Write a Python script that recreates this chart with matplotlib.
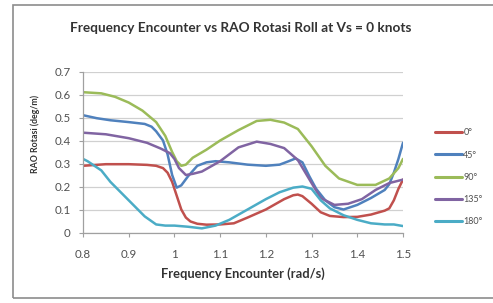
import matplotlib
matplotlib.use("Agg")
import matplotlib.pyplot as plt
from matplotlib.patches import Rectangle

plt.rcParams['font.family'] = ['Lato', 'DejaVu Sans']

title = "Frequency Encounter vs RAO Rotasi Roll at Vs = 0 knots"
xlabel = "Frequency Encounter (rad/s)"
ylabel = "RAO Rotasi (deg/m)"
labels = ["0°", "45°", "90°", "135°", "180°"]
colors = ["#C0504D", "#4F81BD", "#9BBB59", "#8064A2", "#4BACC6"]

freq_0 = [0.80, 0.85, 0.90, 0.94, 0.96, 0.975, 0.985, 0.995, 1.005, 1.015, 1.025, 1.035, 1.05, 1.07, 1.10, 1.13, 1.16, 1.20, 1.24, 1.26, 1.27, 1.28, 1.30, 1.32, 1.34, 1.37, 1.40, 1.43, 1.46, 1.47, 1.48, 1.49, 1.50]
rao_0 = [0.29, 0.297, 0.297, 0.294, 0.29, 0.28, 0.26, 0.22, 0.16, 0.10, 0.065, 0.048, 0.038, 0.034, 0.035, 0.04, 0.065, 0.10, 0.145, 0.162, 0.165, 0.158, 0.125, 0.088, 0.072, 0.067, 0.068, 0.078, 0.095, 0.105, 0.14, 0.19, 0.23]

freq_45 = [0.80, 0.83, 0.86, 0.90, 0.935, 0.95, 0.96, 0.975, 0.985, 0.995, 1.005, 1.015, 1.03, 1.05, 1.07, 1.09, 1.12, 1.16, 1.20, 1.23, 1.25, 1.265, 1.28, 1.295, 1.31, 1.33, 1.35, 1.37, 1.40, 1.43, 1.46, 1.47, 1.48, 1.49, 1.50]
rao_45 = [0.51, 0.497, 0.488, 0.48, 0.472, 0.46, 0.44, 0.40, 0.34, 0.25, 0.195, 0.205, 0.245, 0.29, 0.305, 0.31, 0.305, 0.295, 0.29, 0.295, 0.31, 0.322, 0.305, 0.245, 0.19, 0.14, 0.11, 0.10, 0.12, 0.15, 0.185, 0.21, 0.26, 0.32, 0.39]

freq_90 = [0.80, 0.84, 0.87, 0.90, 0.93, 0.96, 0.98, 0.995, 1.005, 1.015, 1.025, 1.04, 1.07, 1.10, 1.14, 1.18, 1.21, 1.24, 1.27, 1.30, 1.33, 1.36, 1.40, 1.44, 1.47, 1.49, 1.50]
rao_90 = [0.61, 0.605, 0.59, 0.565, 0.53, 0.48, 0.42, 0.35, 0.31, 0.29, 0.295, 0.325, 0.36, 0.40, 0.445, 0.485, 0.49, 0.478, 0.45, 0.375, 0.29, 0.235, 0.207, 0.207, 0.235, 0.28, 0.32]

freq_135 = [0.80, 0.85, 0.90, 0.94, 0.97, 0.99, 1.00, 1.01, 1.025, 1.04, 1.06, 1.10, 1.14, 1.18, 1.21, 1.24, 1.27, 1.30, 1.32, 1.35, 1.38, 1.41, 1.44, 1.47, 1.50]
rao_135 = [0.434, 0.427, 0.41, 0.39, 0.365, 0.345, 0.32, 0.28, 0.25, 0.255, 0.265, 0.31, 0.37, 0.395, 0.385, 0.367, 0.315, 0.215, 0.15, 0.12, 0.125, 0.145, 0.185, 0.215, 0.23]

freq_180 = [0.80, 0.81, 0.84, 0.86, 0.90, 0.935, 0.96, 0.98, 1.00, 1.03, 1.06, 1.09, 1.12, 1.16, 1.20, 1.23, 1.26, 1.28, 1.30, 1.32, 1.34, 1.37, 1.40, 1.43, 1.46, 1.48, 1.50]
rao_180 = [0.32, 0.31, 0.27, 0.22, 0.14, 0.07, 0.035, 0.03, 0.03, 0.025, 0.018, 0.03, 0.055, 0.10, 0.145, 0.175, 0.195, 0.20, 0.19, 0.14, 0.105, 0.075, 0.055, 0.04, 0.035, 0.035, 0.028]

xticks = [0.8, 0.9, 1.0, 1.1, 1.2, 1.3, 1.4, 1.5]
xticklabels = ["0.8", "0.9", "1", "1.1", "1.2", "1.3", "1.4", "1.5"]
yticks = [0, 0.1, 0.2, 0.3, 0.4, 0.5, 0.6, 0.7]
yticklabels = ["0", "0.1", "0.2", "0.3", "0.4", "0.5", "0.6", "0.7"]

W, H = 493, 303
fig = plt.figure(figsize=(W / 100, H / 100), dpi=100)
fig.patch.set_facecolor("white")

# chart area frame
fig.patches.append(Rectangle((13 / W, 1 - 298 / H), (W + 5 - 13) / W, (298 - 5) / H,
                             transform=fig.transFigure, fill=False,
                             edgecolor="#8c8c8c", linewidth=1.2))

ax = fig.add_axes([83 / W, 1 - 232.5 / H, (403 - 83) / W, (232.5 - 71.5) / H])
series = [(freq_0, rao_0), (freq_45, rao_45), (freq_90, rao_90), (freq_135, rao_135), (freq_180, rao_180)]
for (fx, fy), lab, col in zip(series, labels, colors):
    ax.plot(fx, fy, color=col, linewidth=1.8, label=lab,
            solid_joinstyle="round", solid_capstyle="round")

ax.set_xlim(0.8, 1.5)
ax.set_ylim(0, 0.7)
ax.set_xticks(xticks)
ax.set_xticklabels(xticklabels)
ax.set_yticks(yticks)
ax.set_yticklabels(yticklabels)
ax.grid(axis="y", color="#d0d0d0", linewidth=0.9)
ax.set_axisbelow(True)
for s in ["top", "right"]:
    ax.spines[s].set_visible(False)
for s in ["left", "bottom"]:
    ax.spines[s].set_color("#a0a0a0")
    ax.spines[s].set_linewidth(0.9)
ax.tick_params(axis="x", length=3, color="#a0a0a0", labelsize=8.3, labelcolor="#505050", pad=9)
ax.tick_params(axis="y", length=3, color="#a0a0a0", labelsize=8.3, labelcolor="#505050", pad=6)

ax.set_xlabel(xlabel, fontsize=9.3, fontweight="bold", color="#333333", labelpad=5)
ax.set_ylabel(ylabel, fontsize=6.3, fontweight="bold", color="#333333")
ax.yaxis.set_label_coords((40 - 83) / 320, (232.5 - 133.5) / 161)
fig.text(241 / W, 1 - 28 / H, title, ha="center", va="center",
         fontsize=9.8, fontweight="bold", color="#333333")

leg = ax.legend(loc="upper left", bbox_to_anchor=(429 / W, 1 - 122 / H),
                bbox_transform=fig.transFigure, frameon=False, fontsize=6.5,
                handlelength=3.0, handletextpad=0.1, labelspacing=1.47,
                borderpad=0.2, labelcolor="#505050")
for line in leg.get_lines():
    line.set_linewidth(2.2)

fig.savefig("out.png", dpi=100, facecolor="white")
